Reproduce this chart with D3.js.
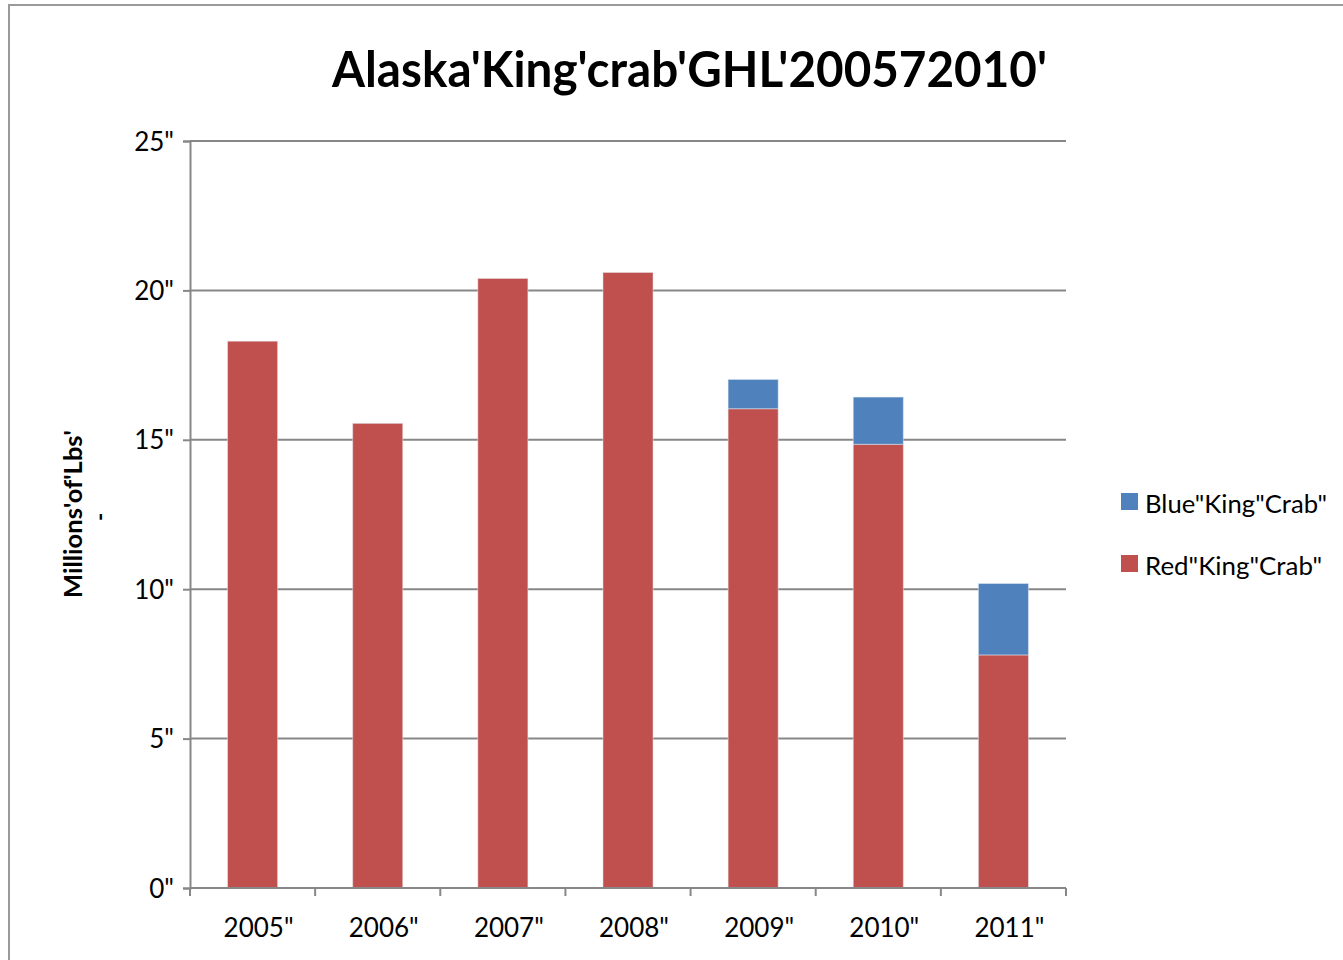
<!DOCTYPE html>
<html>
<head>
<meta charset="utf-8">
<script src="https://cdn.jsdelivr.net/npm/d3@7"></script>
<style>
    body { margin: 0; background: #fff; }
    text { font-family: Lato, "Open Sans", sans-serif; fill: #000; }
</style>
</head>
<body>
<svg id="chartSvg" width="1343" height="960"></svg>
<script>
var years = ["2005\"", "2006\"", "2007\"", "2008\"", "2009\"", "2010\"", "2011\""];
var redKing = [18.3, 15.55, 20.4, 20.6, 16.04, 14.85, 7.8];
var blueKing = [0, 0, 0, 0, 0.98, 1.58, 2.39];
var yTicks = [0, 5, 10, 15, 20, 25];
var yTickLabels = ["0\"", "5\"", "10\"", "15\"", "20\"", "25\""];
var legendNames = ["Blue\"King\"Crab\"", "Red\"King\"Crab\""];

var svg = d3.select("#chartSvg");

// outer chart border (right / bottom fall off the page)
svg.append("rect")
    .attr("x", 9)
    .attr("y", 5)
    .attr("width", 1400)
    .attr("height", 1000)
    .attr("fill", "none")
    .attr("stroke", "#9a9a9a")
    .attr("stroke-width", 2);

var x = d3.scaleBand()
    .domain(years)
    .range([190, 1066])
    .paddingInner(0.6)
    .paddingOuter(0.3);

var xEdges = d3.scaleBand()
    .domain(years)
    .range([190, 1066]);

var y = d3.scaleLinear()
    .domain([0, 25])
    .range([888, 141]);

var gridColor = "#878787";

// gridlines
svg.append("g")
    .selectAll("line")
    .data(yTicks.slice(1))
    .enter().append("line")
    .attr("x1", 190)
    .attr("x2", 1066)
    .attr("y1", function (d) { return y(d); })
    .attr("y2", function (d) { return y(d); })
    .attr("stroke", gridColor)
    .attr("stroke-width", 2);

// y axis
var yAxis = d3.axisLeft(y)
    .tickValues(yTicks)
    .tickSize(7)
    .tickFormat(function (d, i) { return yTickLabels[i]; });

var yg = svg.append("g")
    .attr("transform", "translate(190,0)")
    .call(yAxis);
yg.select(".domain").attr("stroke", gridColor).attr("stroke-width", 2);
yg.selectAll(".tick line").attr("stroke", gridColor).attr("stroke-width", 2);
yg.selectAll(".tick text")
    .attr("x", -16)
    .attr("dy", "0.35em")
    .style("font-size", "26px")
    .style("font-family", "Lato, sans-serif");

// bars
var series = [
    { name: "red", color: "#C0504D", values: redKing, base: function (i) { return 0; } },
    { name: "blue", color: "#4F81BD", values: blueKing, base: function (i) { return redKing[i]; } }
];

series.forEach(function (s) {
    var rows = s.values.map(function (v, i) { return { i: i, v: v }; })
        .filter(function (d) { return d.v > 0; });
    svg.append("g")
        .selectAll("rect")
        .data(rows)
        .enter().append("rect")
        .attr("x", function (d) { return x(years[d.i]); })
        .attr("width", x.bandwidth())
        .attr("y", function (d) { return y(s.base(d.i) + d.v); })
        .attr("height", function (d) { return y(s.base(d.i)) - y(s.base(d.i) + d.v); })
        .attr("fill", s.color)
        .attr("stroke", "#e6ecf4")
        .attr("stroke-opacity", 0.5)
        .attr("stroke-width", 1);
});

// x axis
var xg = svg.append("g");
xg.append("line")
    .attr("x1", 190)
    .attr("x2", 1066)
    .attr("y1", y(0))
    .attr("y2", y(0))
    .attr("stroke", gridColor)
    .attr("stroke-width", 2);

var edges = years.map(function (d) { return xEdges(d); });
edges.push(1066);
xg.selectAll(".xtick")
    .data(edges)
    .enter().append("line")
    .attr("class", "xtick")
    .attr("x1", function (d) { return d; })
    .attr("x2", function (d) { return d; })
    .attr("y1", y(0))
    .attr("y2", y(0) + 8)
    .attr("stroke", gridColor)
    .attr("stroke-width", 2);

xg.selectAll(".xlabel")
    .data(years)
    .enter().append("text")
    .attr("class", "xlabel")
    .attr("x", function (d) { return xEdges(d) + xEdges.bandwidth() / 2 + 6; })
    .attr("y", 937)
    .attr("text-anchor", "middle")
    .style("font-size", "26px")
    .text(function (d) { return d; });

// title
svg.append("text")
    .attr("x", 332)
    .attr("y", 87)
    .style("font-size", "50px")
    .style("font-weight", "bold")
    .attr("textLength", 715)
    .attr("lengthAdjust", "spacingAndGlyphs")
    .text("Alaska'King'crab'GHL'200572010'");

// y label
svg.append("text")
    .attr("transform", "translate(82,514) rotate(-90)")
    .attr("text-anchor", "middle")
    .style("font-size", "25px")
    .style("font-weight", "bold")
    .attr("textLength", 168)
    .attr("lengthAdjust", "spacingAndGlyphs")
    .text("Millions'of'Lbs'");
svg.append("text")
    .attr("transform", "translate(108,517) rotate(-90)")
    .attr("text-anchor", "middle")
    .style("font-size", "22px")
    .style("font-weight", "bold")
    .text("-");

// legend
var legendColors = ["#4F81BD", "#C0504D"];
var legendLengths = [182, 177];
var legend = svg.append("g")
    .selectAll("g")
    .data(legendNames)
    .enter().append("g")
    .attr("transform", function (d, i) { return "translate(1121," + (493 + i * 62) + ")"; });

legend.append("rect")
    .attr("width", 17)
    .attr("height", 17)
    .attr("fill", function (d, i) { return legendColors[i]; });

legend.append("text")
    .attr("x", 24)
    .attr("y", 20)
    .style("font-size", "25px")
    .attr("textLength", function (d, i) { return legendLengths[i]; })
    .attr("lengthAdjust", "spacingAndGlyphs")
    .text(function (d) { return d; });
</script>
</body>
</html>
